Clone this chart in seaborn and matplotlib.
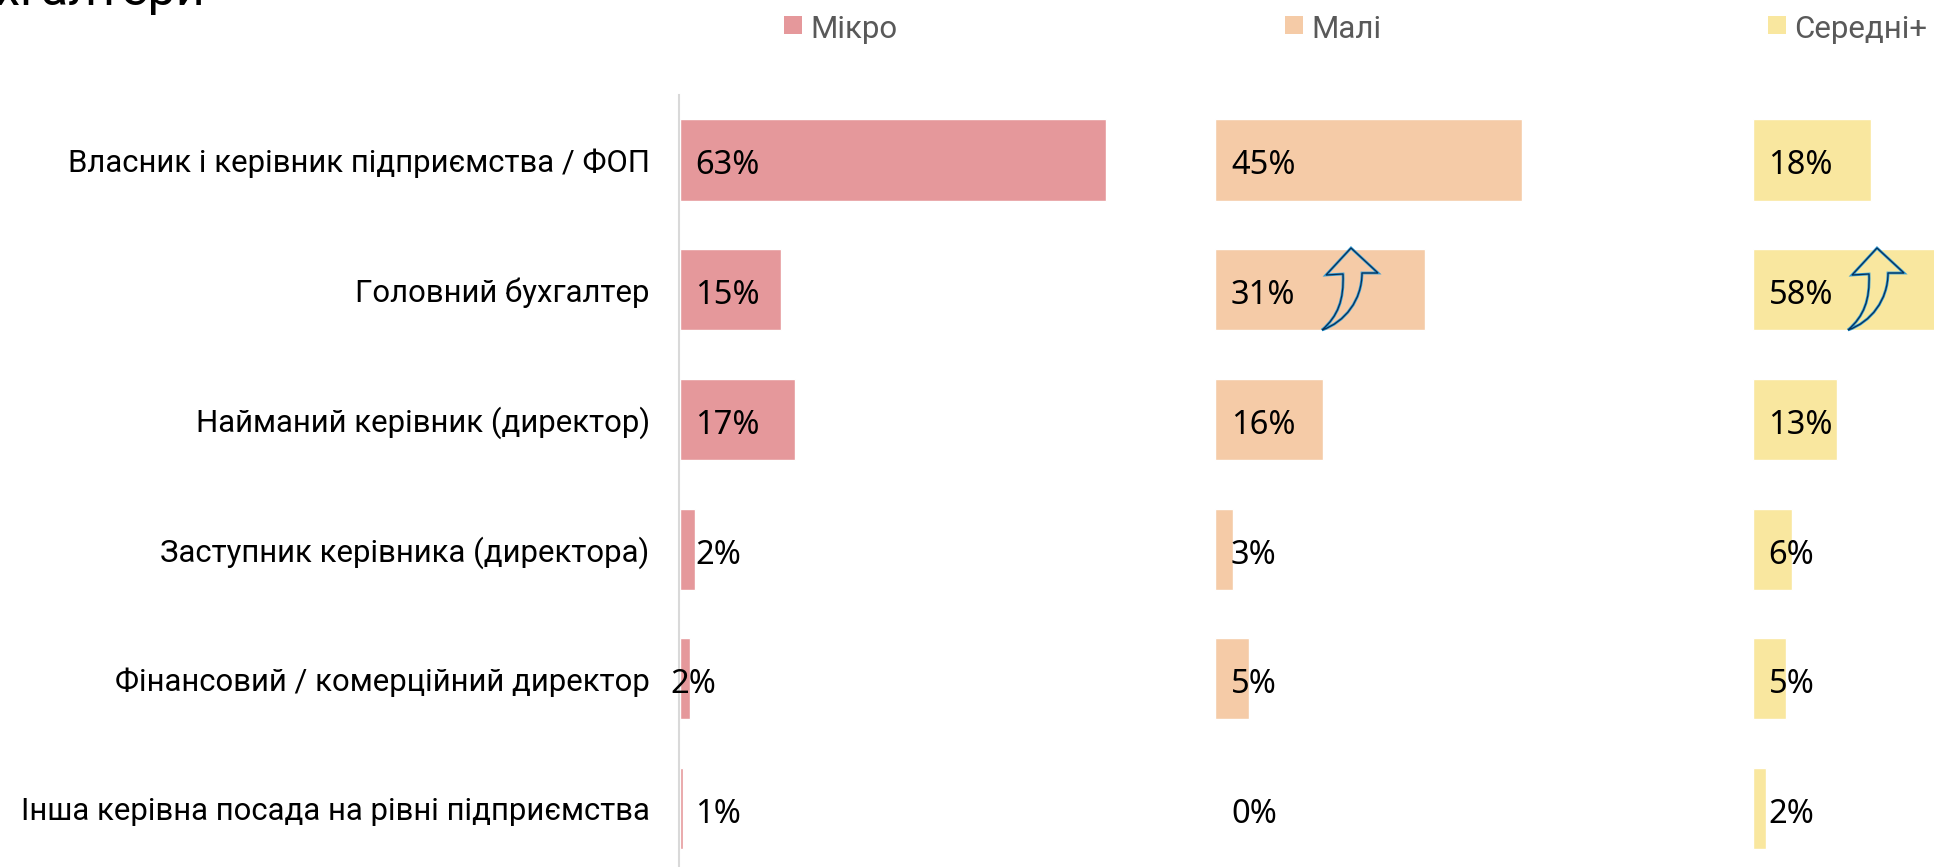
import matplotlib
matplotlib.use('Agg')
import matplotlib.pyplot as plt
import pandas as pd
import seaborn as sns
from matplotlib.patches import PathPatch, Rectangle
from matplotlib.path import Path

categories = [
    'Власник і керівник підприємства / ФОП',
    'Головний бухгалтер',
    'Найманий керівник (директор)',
    'Заступник керівника (директора)',
    'Фінансовий / комерційний директор',
    'Інша керівна посада на рівні підприємства',
]
segments = ['Мікро', 'Малі', 'Середні+']
micro = [63, 15, 17, 2.3, 1.5, 0.5]
small = [45.3, 31, 16, 2.6, 5, 0]
medium = [17.5, 58, 12.5, 5.8, 5, 2]
micro_labels = ['63%', '15%', '17%', '2%', '2%', '1%']
small_labels = ['45%', '31%', '16%', '3%', '5%', '0%']
medium_labels = ['18%', '58%', '13%', '6%', '5%', '2%']
colors = ['#E5989B', '#F5CBA7', '#F9E79F']

W, H = 1934, 867
sns.set_theme(style='white')
plt.rcParams['font.family'] = 'Roboto'

df = pd.DataFrame({'category': categories, 'Мікро': micro, 'Малі': small, 'Середні+': medium})
labels = {'Мікро': micro_labels, 'Малі': small_labels, 'Середні+': medium_labels}

fig = plt.figure(figsize=(W / 100, H / 100), dpi=100, facecolor='white')


def px_axes(left, right, top, bottom):
    return fig.add_axes([left / W, 1 - bottom / H, (right - left) / W, (bottom - top) / H])


PX_PER_PCT = 6.77
panels = [(679.5, 1215), (1215, 1752.5), (1752.5, 1934)]
for seg, color, (left, right) in zip(segments, colors, panels):
    ax = px_axes(left, right, 95, 867)
    sns.barplot(data=df, y='category', x=seg, color=color, width=0.625, saturation=1, ax=ax)
    ax.set_xlim(0, (right - left) / PX_PER_PCT)
    # 95..867 px with row pitch 129.7 and first row centre at 160
    ax.set_ylim((867 - 160) / 129.7, -(160 - 95) / 129.7)
    ax.set_xlabel('')
    ax.set_ylabel('')
    ax.set_xticks([])
    sns.despine(ax=ax, left=True, bottom=True)
    for i, lab in enumerate(labels[seg]):
        dx = 16
        if seg == 'Мікро' and i == 4:
            dx = -9
        ax.annotate(lab, xy=(0, i), xytext=(dx, -2), textcoords='offset pixels', family='Noto Sans',
                    ha='left', va='center_baseline', fontsize=23.5, color='black', annotation_clip=False)
    if seg == 'Мікро':
        ax.tick_params(axis='y', length=0, pad=21, labelsize=22.4, labelcolor='black')
        ax.spines['left'].set_visible(True)
        ax.spines['left'].set_position(('outward', 0.5))
        ax.spines['left'].set_color('#D9D9D9')
        ax.spines['left'].set_linewidth(1.5)
    else:
        ax.set_yticks([])


def add_arrow(dx):
    verts = [(1351, 248), (1378, 273), (1362, 273), (1362, 300), (1345, 322), (1322, 330),
             (1338, 316), (1344, 300), (1343, 274), (1326, 275), (1351, 248)]
    codes = [Path.MOVETO, Path.LINETO, Path.LINETO, Path.CURVE4, Path.CURVE4, Path.CURVE4,
             Path.CURVE4, Path.CURVE4, Path.CURVE4, Path.LINETO, Path.CLOSEPOLY]
    verts = [((x + dx) / W, 1 - y / H) for x, y in verts]
    path = Path(verts, codes)
    fig.add_artist(PathPatch(path, transform=fig.transFigure, facecolor='none',
                             edgecolor='#2E9BD6', linewidth=2.0))
    fig.add_artist(PathPatch(path, transform=fig.transFigure, facecolor='none',
                             edgecolor='#0A2F55', linewidth=0.9))


add_arrow(0)
add_arrow(526)

# legend
for seg, color, sq_x in zip(segments, colors, [784, 1285, 1768]):
    fig.add_artist(Rectangle((sq_x / W, 1 - 34 / H), 18 / W, 18 / H, transform=fig.transFigure,
                             facecolor=color, edgecolor='none'))
    fig.text((sq_x + 26) / W, 1 - 26 / H, seg, fontsize=22.5, color='#595959', va='center_baseline', ha='left')

# title cut by the top of the picture
fig.text(205 / W, 1 - 5 / H, 'бухгалтери', fontsize=36, color='black', ha='right', va='baseline')

fig.savefig('out.png', dpi=100)
